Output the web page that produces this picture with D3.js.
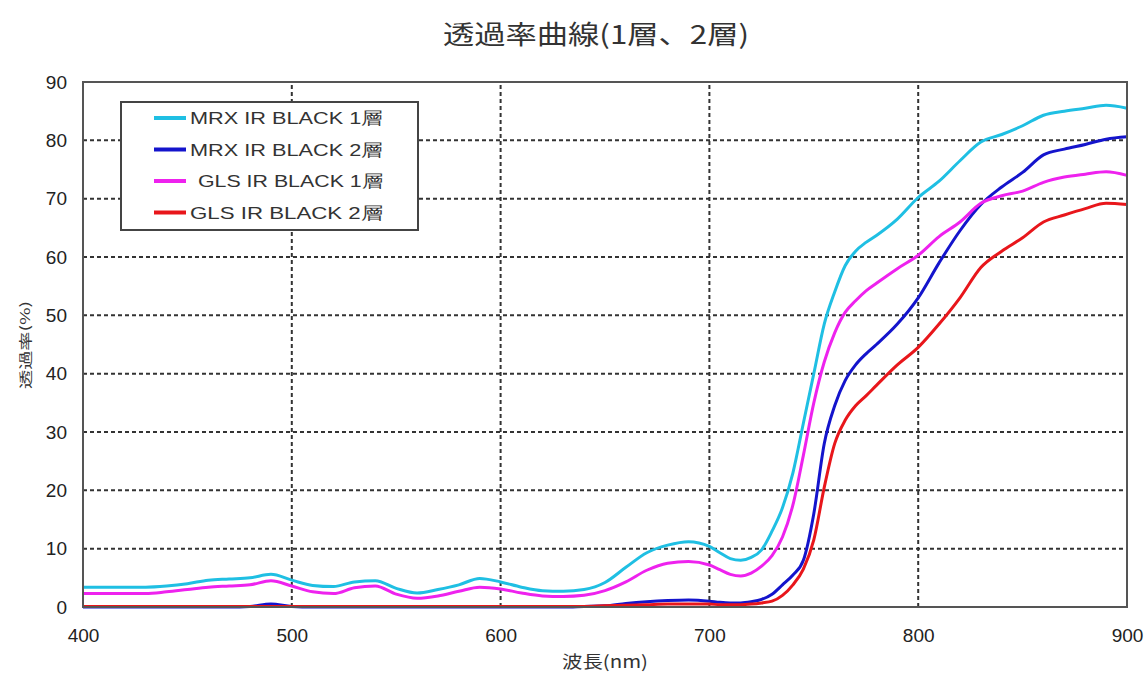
<!DOCTYPE html>
<html>
<head>
<meta charset="utf-8">
<script src="https://cdn.jsdelivr.net/npm/d3@7"></script>
<style>
  html, body { margin: 0; padding: 0; background: #fff; }
  svg { display: block; }
</style>
</head>
<body>
<div id="chart"></div>
<script>
// wavelength (nm)
const wavelengths = [400, 410, 420, 430, 440, 450, 460, 470, 480, 490, 500, 510, 520, 530, 540, 550, 560, 570, 580, 590,
  600, 610, 620, 630, 640, 650, 660, 670, 680, 690, 700, 705, 710, 715, 720, 725, 730, 735, 740, 745,
  750, 755, 760, 765, 770, 775, 780, 790, 800, 810, 820, 830, 840, 850, 860, 870, 880, 890, 900];

const mrx1 = [3.4, 3.4, 3.4, 3.4, 3.6, 4.0, 4.6, 4.8, 5.0, 5.6, 4.6, 3.7, 3.5, 4.3, 4.5, 3.2, 2.4, 3.0, 3.8, 4.9,
  4.3, 3.4, 2.8, 2.7, 3.0, 4.2, 6.8, 9.3, 10.6, 11.2, 10.4, 9.3, 8.3, 8.0, 8.5, 9.8, 13, 17, 23, 31.5,
  40, 48.5, 54, 58.5, 61, 62.5, 63.7, 66.5, 70.2, 73, 76.5, 79.7, 81, 82.5, 84.3, 85, 85.5, 86, 85.5];

const mrx2 = [0, 0, 0, 0, 0, 0, 0, 0, 0.1, 0.5, 0.1, 0, 0, 0, 0, 0, 0, 0, 0, 0,
  0, 0, 0, 0, 0.1, 0.2, 0.6, 0.9, 1.1, 1.2, 1.0, 0.8, 0.7, 0.7, 0.9, 1.3, 2.2, 3.8, 5.5, 8.0,
  16, 28, 34.5, 38.8, 41.5, 43.4, 45, 48.5, 53, 59, 64.5, 69, 72, 74.5, 77.5, 78.5, 79.3, 80.2, 80.6];

const gls1 = [2.3, 2.3, 2.3, 2.3, 2.6, 3.0, 3.4, 3.6, 3.8, 4.5, 3.6, 2.6, 2.3, 3.3, 3.6, 2.2, 1.5, 1.9, 2.7, 3.4,
  3.1, 2.4, 1.9, 1.8, 2.0, 2.8, 4.3, 6.3, 7.5, 7.8, 7.2, 6.4, 5.6, 5.3, 5.8, 7.0, 8.8, 12, 17.5, 26,
  35, 42, 47, 50.5, 52.5, 54.2, 55.5, 58, 60.3, 63.5, 66, 69.2, 70.5, 71.3, 72.8, 73.7, 74.2, 74.6, 74];

const gls2 = [0.1, 0.1, 0.1, 0.1, 0.1, 0.1, 0.1, 0.1, 0.1, 0.1, 0.1, 0.1, 0.1, 0.1, 0.1, 0.1, 0.1, 0.1, 0.1, 0.1,
  0.1, 0.1, 0.1, 0.1, 0.1, 0.2, 0.3, 0.4, 0.5, 0.5, 0.5, 0.4, 0.4, 0.4, 0.5, 0.7, 1.0, 2.0, 3.8, 6.5,
  11.5, 20.5, 28, 32, 34.5, 36.2, 38, 41.5, 44.5, 48.5, 53, 58.2, 61, 63.3, 66, 67.2, 68.3, 69.2, 69];

const seriesNames = ["MRX IR BLACK 1層", "MRX IR BLACK 2層", " GLS IR BLACK 1層", "GLS IR BLACK 2層"];
const seriesColors = ["#1fbfe3", "#1414cc", "#ee22ee", "#e8161b"];
const seriesValues = [mrx1, mrx2, gls1, gls2];

const xTicks = [400, 500, 600, 700, 800, 900];
const yTicks = [0, 10, 20, 30, 40, 50, 60, 70, 80, 90];

const width = 1145, height = 674;
const margin = {left: 83, right: 18, top: 82, bottom: 67};

const svg = d3.select("#chart").append("svg")
  .attr("width", width)
  .attr("height", height);

const x = d3.scaleLinear().domain([400, 900]).range([margin.left, width - margin.right]);
const y = d3.scaleLinear().domain([0, 90]).range([height - margin.bottom, margin.top]);

// title
svg.append("text")
  .attr("x", 596).attr("y", 44)
  .attr("text-anchor", "middle")
  .attr("font-family", "'Noto Sans CJK JP', sans-serif")
  .attr("font-size", 26)
  .attr("fill", "#333")
  .attr("textLength", 306)
  .attr("lengthAdjust", "spacingAndGlyphs")
  .text("透過率曲線(1層、2層)");

// grid
const grid = svg.append("g");
grid.selectAll(".hg")
  .data(yTicks.filter(d => d > 0 && d < 90))
  .enter().append("line")
  .attr("x1", x(400)).attr("x2", x(900))
  .attr("y1", d => y(d)).attr("y2", d => y(d))
  .attr("stroke", "#333")
  .attr("stroke-width", 2)
  .attr("stroke-dasharray", "4,3");
grid.selectAll(".vg")
  .data(xTicks.filter(d => d > 400 && d < 900))
  .enter().append("line")
  .attr("y1", y(0)).attr("y2", y(90))
  .attr("x1", d => x(d)).attr("x2", d => x(d))
  .attr("stroke", "#333")
  .attr("stroke-width", 2)
  .attr("stroke-dasharray", "4,3");

// lines
const line = d3.line()
  .x((d, i) => x(wavelengths[i]))
  .y(d => y(d))
  .curve(d3.curveMonotoneX);

svg.append("g")
  .selectAll("path")
  .data(seriesValues)
  .enter().append("path")
  .attr("d", d => line(d))
  .attr("fill", "none")
  .attr("stroke", (d, i) => seriesColors[i])
  .attr("stroke-width", 3)
  .attr("stroke-linejoin", "round");

// frame
svg.append("rect")
  .attr("x", x(400)).attr("y", y(90))
  .attr("width", x(900) - x(400))
  .attr("height", y(0) - y(90))
  .attr("fill", "none")
  .attr("stroke", "#555")
  .attr("stroke-width", 2);

// axes
const yAxis = svg.append("g")
  .attr("transform", `translate(${margin.left},0)`)
  .call(d3.axisLeft(y).tickValues(yTicks).tickSize(0).tickPadding(16));
const xAxis = svg.append("g")
  .attr("transform", `translate(0,${height - margin.bottom})`)
  .call(d3.axisBottom(x).tickValues(xTicks).tickSize(0).tickPadding(22));
[xAxis, yAxis].forEach(a => {
  a.select(".domain").remove();
  a.selectAll("text")
    .attr("font-family", "'Liberation Sans', Arial, sans-serif")
    .attr("font-size", 19)
    .attr("fill", "#222");
});

// axis titles
svg.append("text")
  .attr("transform", "translate(30,345) rotate(-90)")
  .attr("text-anchor", "middle")
  .attr("font-family", "'Noto Sans CJK JP', sans-serif")
  .attr("font-size", 13)
  .attr("fill", "#333")
  .attr("textLength", 88)
  .attr("lengthAdjust", "spacingAndGlyphs")
  .text("透過率(%)");

svg.append("text")
  .attr("x", 605).attr("y", 668)
  .attr("text-anchor", "middle")
  .attr("font-family", "'Noto Sans CJK JP', sans-serif")
  .attr("font-size", 17)
  .attr("fill", "#333")
  .attr("textLength", 86)
  .attr("lengthAdjust", "spacingAndGlyphs")
  .text("波長(nm)");

// legend
const legend = svg.append("g");
legend.append("rect")
  .attr("x", 121).attr("y", 102)
  .attr("width", 297).attr("height", 128)
  .attr("fill", "#fff")
  .attr("stroke", "#444")
  .attr("stroke-width", 2);

const item = legend.selectAll(".item")
  .data(seriesNames)
  .enter().append("g")
  .attr("transform", (d, i) => `translate(0,${118 + i * 31.5})`);
item.append("line")
  .attr("x1", 154).attr("x2", 186)
  .attr("stroke", (d, i) => seriesColors[i])
  .attr("stroke-width", 4);
item.append("text")
  .attr("x", (d, i) => i === 2 ? 198 : 190)
  .attr("y", 6)
  .attr("font-family", "'Liberation Sans', Arial, sans-serif")
  .attr("font-size", 17)
  .attr("fill", "#333")
  .attr("textLength", (d, i) => i === 2 ? 185 : 193)
  .attr("lengthAdjust", "spacingAndGlyphs")
  .text(d => d.trim());
</script>
</body>
</html>
